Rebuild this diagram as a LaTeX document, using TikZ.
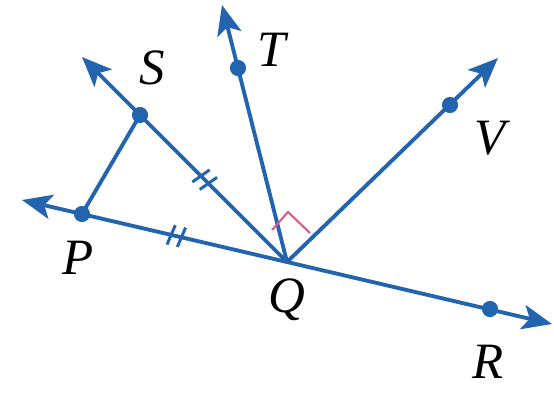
\documentclass[tikz,border=0pt]{standalone}
\usepackage{fontspec}
\setmainfont{Liberation Serif}
\usetikzlibrary{arrows.meta,calc}
\definecolor{rayblue}{RGB}{35,100,175}
\definecolor{anglered}{RGB}{220,90,140}

\begin{document}
\begin{tikzpicture}[x=0.02cm,y=-0.02cm,
    >={Stealth[length=17pt,width=14pt,inset=4pt]},
    ray/.style={rayblue,line width=2.2pt},
    lbl/.style={font=\fontsize{29}{30}\selectfont\itshape},
    dot/.style={fill=rayblue}]
    \useasboundingbox (0,0) rectangle (554,392);

    % points
    \coordinate (Q) at (287,262);
    \coordinate (P) at (82,214);
    \coordinate (R) at (490,309);
    \coordinate (S) at (140,115);
    \coordinate (T) at (238,68);
    \coordinate (V) at (450,105);
    \coordinate (Lend) at (22,200);
    \coordinate (Rend) at (552,324);
    \coordinate (Send) at (82,57);
    \coordinate (Tend) at (222,5);
    \coordinate (Vend) at (498,58);

    % rays
    \draw[ray,<->] (Lend) -- (Rend);
    \draw[ray,->] (Q) -- (Send);
    \draw[ray,->] (Q) -- (Tend);
    \draw[ray,->] (Q) -- (Vend);
    \draw[ray] (P) -- (S);

    % right angle
    \draw[anglered,line width=1.2pt] (272,230) -- (288,212) -- (310,233);

    % congruence marks
    \coordinate (m1) at ($(Q)!0.56!(S)$);
    \coordinate (m2) at ($(Q)!0.54!(P)$);
    \foreach \m/\e in {m1/S,m2/P}{
        \foreach \s in {-3pt,3pt}{
            \coordinate (c) at ($(\m)!\s!(\e)$);
            \draw[rayblue,line width=1.7pt] ($(c)!6pt!80:(\e)$) -- ($(c)!6pt!-100:(\e)$);
        }
    }

    % dots
    \foreach \p in {P,R,S,T,V}
        \fill[dot] (\p) circle (4.6pt);

    % labels
    \node[lbl] (lblS) at (152,68) {S};
    \node[lbl] (lblT) at (272,50) {T};
    \node[lbl] (lblV) at (490,138) {V};
    \node[lbl] (lblP) at (78,258) {P};
    \node[lbl] (lblQ) at (287,300) {Q};
    \node[lbl] (lblR) at (488,362) {R};
\end{tikzpicture}
\end{document}
